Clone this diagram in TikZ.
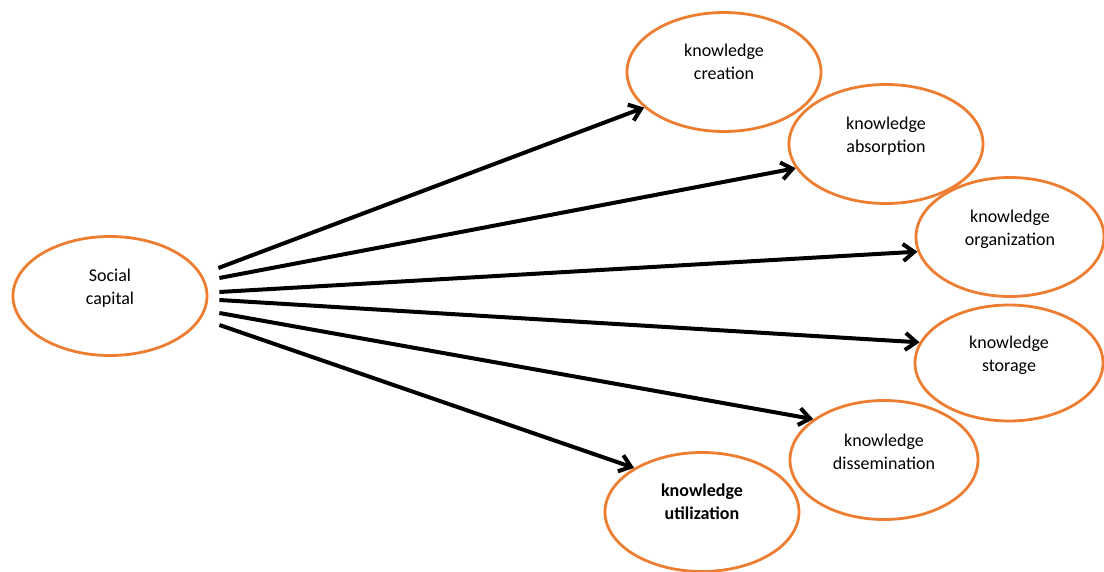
\documentclass[tikz,border=0pt]{standalone}
\usepackage{fontspec}
\setmainfont{Carlito}
\usetikzlibrary{shapes.geometric, arrows.meta}
\definecolor{rimorange}{RGB}{237,125,49}

\begin{document}
\begin{tikzpicture}[x=1pt, y=-1pt,
  bubble/.style={ellipse, draw=rimorange, line width=2.8pt,
    minimum width=194pt, minimum height=119pt, inner sep=0pt},
  txt/.style={align=center, font=\fontsize{18}{23}\selectfont, yshift=8pt},
  link/.style={line width=4pt, -{Straight Barb[length=11pt, width=17pt]}}]
\useasboundingbox (0,0) rectangle (1104,572);

\node[bubble, label={[txt]center:Social\\capital}] (cap) at (110,296) {};
\node[bubble, label={[txt, yshift=2pt]center:knowledge\\creation}] (cre) at (724,72) {};
\node[bubble, label={[txt]center:knowledge\\absorption}] (abs) at (886,144) {};
\node[bubble, minimum width=188pt, label={[txt]center:knowledge\\organization}] (org) at (1010,237) {};
\node[bubble, minimum width=188pt, minimum height=116pt, label={[txt]center:knowledge\\storage}] (sto) at (1009,363) {};
\node[bubble, minimum width=188pt, label={[txt]center:knowledge\\dissemination}] (dis) at (884,460) {};
\node[bubble, label={[txt, yshift=2pt, font=\fontsize{18}{23}\selectfont\bfseries]center:knowledge\\utilization}] (uti) at (702,512) {};

\draw[link] ([shift={(10,-28)}]cap.east) -- (cre.204);
\draw[link] ([shift={(11,-18)}]cap.east) -- (abs.195);
\draw[link] ([shift={(11,-4)}]cap.east) -- (org.189);
\draw[link] ([shift={(11,4)}]cap.east) -- (sto.167);
\draw[link] ([shift={(11,17)}]cap.east) -- (dis.150);
\draw[link] ([shift={(11,29)}]cap.east) -- (uti.147);
\end{tikzpicture}
\end{document}
